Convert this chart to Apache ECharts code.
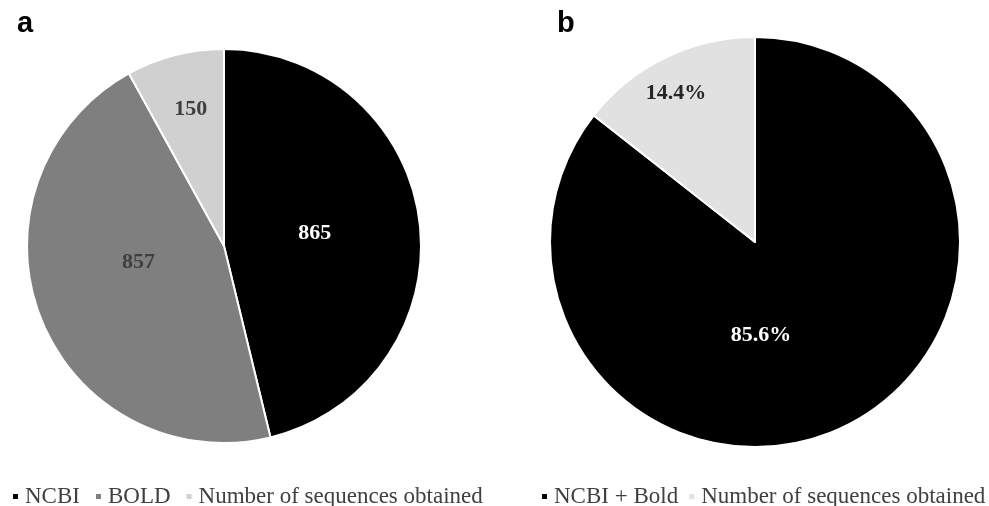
<!DOCTYPE html>
<html><head><meta charset="utf-8">
<script src="https://cdn.jsdelivr.net/npm/echarts@6/dist/echarts.min.js"></script>
<style>html,body{margin:0;padding:0;background:#fff}#c{width:989px;height:506px}</style>
</head><body><div id="c"></div>
<script>
const namesA = ['NCBI', 'BOLD', 'Number of sequences obtained'];
const valuesA = [865, 857, 150];
const namesB = ['NCBI + Bold', 'Number of sequences obtained'];
const valuesB = [85.6, 14.4];
const labelsB = ['85.6%', '14.4%'];

const colorsA = ['#000000', '#7f7f7f', '#d0d0d0'];
const labelColorsA = ['#ffffff', '#3f3f3f', '#3f3f3f'];
const offsetsA = [[-10, -1], [9, -20], [-8, -38]];
const colorsB = ['#000000', '#e1e1e1'];
const labelColorsB = ['#ffffff', '#262626'];
const offsetsB = [[-40, -2], [-33, -54]];

const serif = '"Liberation Serif", "DejaVu Serif", serif';

const chart = echarts.init(document.getElementById('c'));
chart.setOption({
  animation: false,
  title: [
    {text: 'a', left: 12, top: 4, textStyle: {fontFamily: '"Liberation Sans", Arial, sans-serif', fontWeight: 'bold', fontSize: 29, color: '#000'}},
    {text: 'b', left: 552, top: 4, textStyle: {fontFamily: '"Liberation Sans", Arial, sans-serif', fontWeight: 'bold', fontSize: 29, color: '#000'}}
  ],
  legend: [
    {left: 6, top: 480, width: 520, icon: 'rect', itemWidth: 7, itemHeight: 7, itemGap: 14,
     textStyle: {fontFamily: serif, fontSize: 23, color: '#404040', padding: [0, 0, 0, 1]},
     data: namesA.map((n, i) => ({name: n, itemStyle: {color: colorsA[i]}}))},
    {left: 535, top: 480, width: 470, icon: 'rect', itemWidth: 7, itemHeight: 7, itemGap: 9,
     textStyle: {fontFamily: serif, fontSize: 23, color: '#404040', padding: [0, 0, 0, 1]},
     data: namesB.map((n, i) => ({name: n, itemStyle: {color: colorsB[i]}}))}
  ],
  series: [
    {type: 'pie', center: [224, 246], radius: 197, startAngle: 90, clockwise: true,
     itemStyle: {borderColor: '#fff', borderWidth: 2},
     label: {position: 'inside', fontFamily: serif, fontWeight: 'bold', fontSize: 22, formatter: '{c}'},
     labelLine: {show: false},
     emphasis: {disabled: true},
     data: namesA.map((n, i) => ({name: n, value: valuesA[i],
       itemStyle: {color: colorsA[i]},
       label: {color: labelColorsA[i], offset: offsetsA[i]}}))},
    {type: 'pie', center: [755, 242], radius: 205, startAngle: 90, clockwise: true,
     itemStyle: {borderColor: '#fff', borderWidth: 2},
     label: {position: 'inside', fontFamily: serif, fontWeight: 'bold', fontSize: 22},
     labelLine: {show: false},
     emphasis: {disabled: true},
     data: namesB.map((n, i) => ({name: n, value: valuesB[i],
       itemStyle: {color: colorsB[i]},
       label: {color: labelColorsB[i], offset: offsetsB[i], formatter: labelsB[i]}}))}
  ]
});
</script></body></html>
